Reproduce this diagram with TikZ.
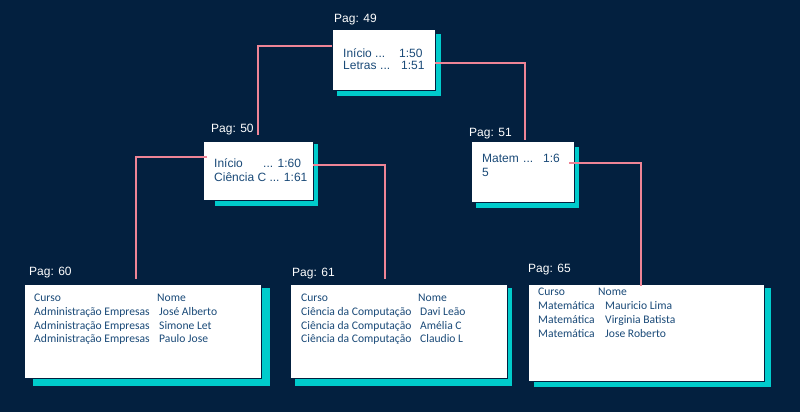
\documentclass[tikz,border=0pt]{standalone}
\usepackage{fontspec}
\setmainfont{Liberation Sans}
\newfontfamily\leaffont{Carlito}
\definecolor{bg}{HTML}{03203F}
\definecolor{shad}{HTML}{00CCCC}
\definecolor{txt}{HTML}{1A4A78}
\definecolor{link}{HTML}{EE8496}
\begin{document}
\begin{tikzpicture}[x=1pt,y=-1pt,
  shadowbox/.style={fill=shad,draw=none},
  whitebox/.style={fill=white,draw=bg,line width=0.6pt},
  lbl/.style={anchor=base west,inner sep=0pt,text=white,font=\fontsize{12}{14}\selectfont},
  btxt/.style={anchor=base west,inner sep=0pt,text=txt,font=\fontsize{12}{14}\selectfont},
  ltxt/.style={anchor=base west,inner sep=0pt,text=txt,font=\leaffont\fontsize{11.6}{13}\selectfont},
  linkline/.style={draw=link,line width=1.2pt}]
\fill[bg] (0,0) rectangle (800,412);
\useasboundingbox (0,0) rectangle (800,412);
% shadows
\fill[shadowbox] (337,34) rectangle (441,96);
\fill[shadowbox] (215,144) rectangle (318,206);
\fill[shadowbox] (476,147) rectangle (579,208);
\fill[shadowbox] (33,288) rectangle (270,386);
\fill[shadowbox] (295,288) rectangle (512,386);
\fill[shadowbox] (534,288) rectangle (771,387);
% boxes
\node[whitebox,minimum width=103pt,minimum height=61pt,inner sep=0pt] (b49) at (383.5,59.5) {};
\node[whitebox,minimum width=110pt,minimum height=59pt,inner sep=0pt] (b50) at (258,170.5) {};
\node[whitebox,minimum width=103pt,minimum height=61pt,inner sep=0pt] (b51) at (522.5,171.5) {};
\node[whitebox,minimum width=237pt,minimum height=94pt,inner sep=0pt] (b60) at (142.5,331) {};
\node[whitebox,minimum width=217pt,minimum height=94pt,inner sep=0pt] (b61) at (398.5,331) {};
\node[whitebox,minimum width=236pt,minimum height=97pt,inner sep=0pt] (b65) at (646,332.5) {};
% labels
\node[lbl] (l49) at (334,23) {Pag: 49};
\node[lbl] (l50) at (211,132) {Pag: 50};
\node[lbl] (l51) at (469,136) {Pag: 51};
\node[lbl] (l60) at (29,275) {Pag: 60};
\node[lbl] (l61) at (292,276) {Pag: 61};
\node[lbl] (l65) at (528,272) {Pag: 65};
% box 49 text
\node[btxt] (t49a) at (343,57) {Início};
\node[btxt] (t49b) at (375,57) {...};
\node[btxt] (t49c) at (399,57) {1:50};
\node[btxt] (t49d) at (343,70) {Letras};
\node[btxt] (t49e) at (380,70) {...};
\node[btxt] (t49f) at (401,70) {1:51};
% box 50 text
\node[btxt] (t50a) at (214,167) {Início};
\node[btxt] (t50b) at (263,167) {... 1:60};
\node[btxt] (t50c) at (214,181) {Ciência C ... 1:61};
% box 51 text
\node[btxt] (t51a) at (482,162) {Matem};
\node[btxt] (t51b) at (523,162) {...};
\node[btxt] (t51c) at (543,162) {1:6};
\node[btxt] (t51d) at (482,176) {5};
% leaf 60
\node[ltxt] (c60h) at (34,301) {Curso};
\node[ltxt] (n60h) at (157,301) {Nome};
\node[ltxt] (c60a) at (34,315) {Administração Empresas};
\node[ltxt] (n60a) at (159,315) {José Alberto};
\node[ltxt] (c60b) at (34,329) {Administração Empresas};
\node[ltxt] (n60b) at (159,329) {Simone Let};
\node[ltxt] (c60c) at (34,342.5) {Administração Empresas};
\node[ltxt] (n60c) at (159,342.5) {Paulo Jose};
% leaf 61
\node[ltxt] (c61h) at (301,301) {Curso};
\node[ltxt] (n61h) at (418,301) {Nome};
\node[ltxt] (c61a) at (301,315) {Ciência da Computação};
\node[ltxt] (n61a) at (420,315) {Davi Leão};
\node[ltxt] (c61b) at (301,329) {Ciência da Computação};
\node[ltxt] (n61b) at (420,329) {Amélia C};
\node[ltxt] (c61c) at (301,342.5) {Ciência da Computação};
\node[ltxt] (n61c) at (420,342.5) {Claudio L};
% leaf 65
\node[ltxt] (c65h) at (538,295) {Curso};
\node[ltxt] (n65h) at (598,295) {Nome};
\node[ltxt] (c65a) at (538,309) {Matemática};
\node[ltxt] (n65a) at (605,309) {Mauricio Lima};
\node[ltxt] (c65b) at (538,323) {Matemática};
\node[ltxt] (n65b) at (605,323) {Virginia Batista};
\node[ltxt] (c65c) at (538,337) {Matemática};
\node[ltxt] (n65c) at (605,337) {Jose Roberto};
% connector end points
\coordinate (s49l) at (332,46);
\coordinate (e50) at (258,135);
\coordinate (s49r) at (435,63);
\coordinate (e51) at (525,140);
\coordinate (s50l) at (207,157);
\coordinate (e60) at (136,279);
\coordinate (s50r) at (313,165);
\coordinate (e61) at (385,279);
\coordinate (s51) at (569,163);
\coordinate (e65) at (641,286);
\draw[linkline] (s49l) -| (e50);
\draw[linkline] (s49r) -| (e51);
\draw[linkline] (s50l) -| (e60);
\draw[linkline] (s50r) -| (e61);
\draw[linkline] (s51) -| (e65);
\end{tikzpicture}
\end{document}
